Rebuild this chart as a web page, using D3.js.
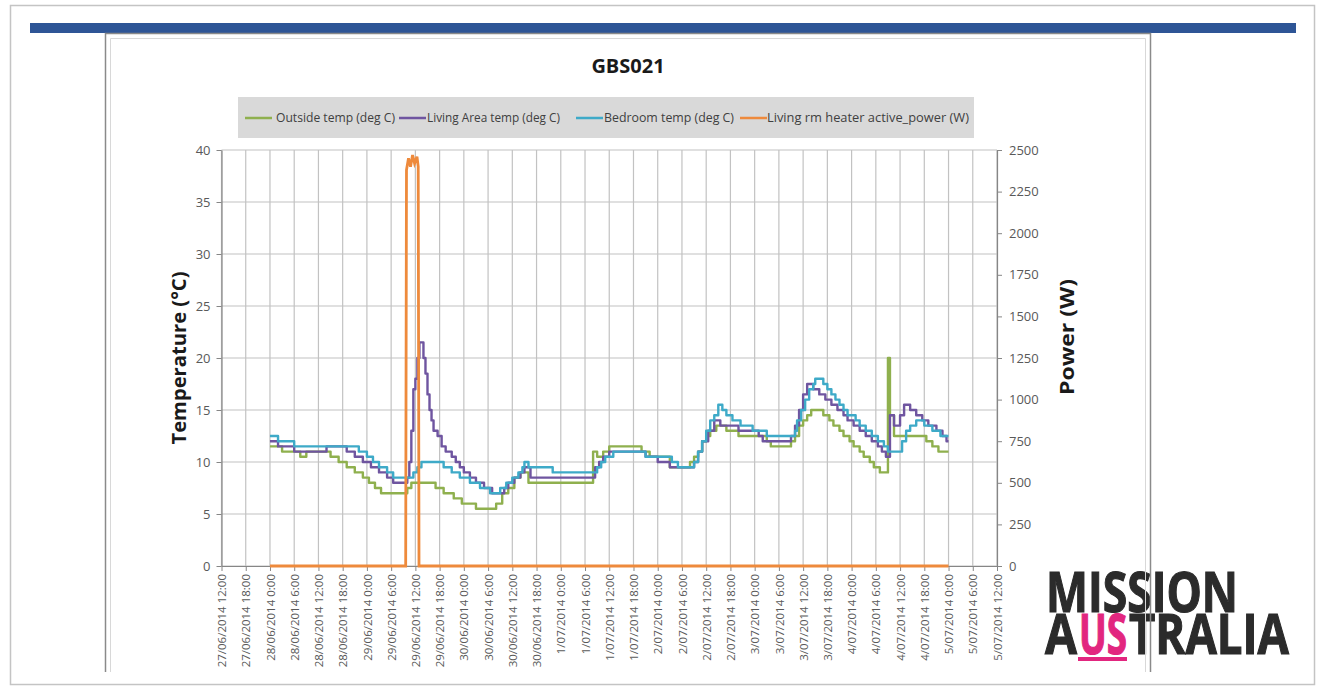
<!DOCTYPE html>
<html>
<head>
<meta charset="utf-8">
<script src="https://cdn.jsdelivr.net/npm/d3@7"></script>
<style>
  body { margin: 0; background: #fff; }
  svg text { font-family: "Open Sans", "Liberation Sans", sans-serif; }
</style>
</head>
<body>
<div id="chart"></div>
<script>
// readings as [hours after 28/06/2014 0:00, value]
const outsideTemp = [[0, 11.5], [3, 11], [7.5, 10.5], [9, 11], [15, 10.5], [17, 10], [19, 9.5], [21, 9], [23, 8.5],
    [24.5, 8], [26, 7.5], [27.5, 7], [34, 7.5], [35, 8], [41, 7.5], [43, 7], [45.5, 6.5], [47.5, 6], [51, 5.5],
    [56, 6], [57.5, 7], [59, 7.5], [60.5, 8.5], [62, 9], [64, 8], [80, 11], [81, 10.5], [82.5, 11], [84, 11.5],
    [92, 11], [94, 10.5], [99, 9.5], [104, 10], [105, 10.5], [106, 11], [107, 12], [108, 12.5], [109, 13],
    [110.5, 13.5], [113, 13], [116, 12.5], [123, 12], [124, 11.5], [129, 12], [130, 12.5], [131, 13.5], [132, 14],
    [133, 14.5], [134, 15], [137, 14.5], [138.5, 14], [139.5, 13.5], [141, 13], [142, 12.5], [143.5, 12],
    [144.5, 11.5], [146, 11], [147, 10.5], [148.5, 10], [149.5, 9.5], [151, 9], [153, 20], [153.5, 14.5],
    [154.5, 12.5], [162.5, 12], [164, 11.5], [165.5, 11], [168, 11]];

const livingTemp = [[0, 12], [2, 11.5], [6, 11], [14, 11.5], [19, 11], [21, 10.5], [23, 10], [25, 9.5], [27, 9],
    [29, 8.5], [30.5, 8], [34, 8.5], [34.5, 10], [35, 13], [35.5, 17], [36, 18], [36.5, 20], [37, 21.5], [38, 20],
    [38.5, 18.5], [39, 16.5], [39.5, 15], [40, 14], [40.5, 13], [41.5, 12.5], [42.5, 11.5], [43.5, 11], [45, 10.5],
    [46, 10], [47, 9.5], [48, 9], [49.5, 8.5], [51, 8], [53, 7.5], [55, 7], [58, 7.5], [59, 8], [60.5, 8.5],
    [62, 9], [63, 9.5], [64.5, 8.5], [80.5, 9.5], [81.5, 10], [82.5, 10.5], [84, 11], [93, 10.5], [96, 10],
    [99, 9.5], [105, 10], [106, 11], [107, 12], [108.5, 13], [110, 14], [111.5, 13.5], [116, 13], [121, 12.5],
    [122, 12], [129, 12.5], [130, 13.5], [131, 15], [132, 16.5], [133, 17.5], [134.5, 17], [136, 16.5],
    [137.5, 16], [139, 15.5], [140.5, 15], [142, 14.5], [143, 14], [144.5, 13.5], [146, 13], [147.5, 12.5],
    [149, 12], [150.5, 11.5], [151.5, 11], [152.5, 10.5], [153.5, 14.5], [154.5, 13.5], [156, 14.5], [157, 15.5],
    [158.5, 15], [160, 14.5], [161.5, 14], [163, 13.5], [165, 13], [166.5, 12.5], [167.5, 12], [168, 12]];

const bedroomTemp = [[0, 12.5], [2, 12], [6, 11.5], [22, 11], [24, 10.5], [25.5, 10], [27, 9.5], [29, 9],
    [30.5, 8.5], [35.5, 9], [36.5, 9.5], [37.5, 10], [43, 9.5], [45, 9], [47, 8.5], [49.5, 8], [52, 7.5],
    [54.5, 7], [57, 7.5], [58.5, 8], [60, 8.5], [61.5, 9], [62.5, 9.5], [63, 10], [64, 9.5], [70, 9], [81, 9.5],
    [82, 10], [83, 10.5], [85, 11], [93, 10.5], [99.5, 10], [101, 9.5], [105, 10], [106, 11], [107, 12], [108, 13],
    [109, 14], [110, 14.5], [111, 15.5], [112, 15], [113, 14.5], [114.5, 14], [116.5, 13.5], [119.5, 13],
    [123, 12.5], [130, 13], [130.5, 14], [131.5, 15], [132.5, 16], [133.5, 17], [134.5, 17.5], [135, 18],
    [137, 17.5], [138, 17], [139, 16.5], [140, 16], [141, 15.5], [142, 15], [143, 14.5], [145, 14], [146, 13.5],
    [147.5, 13], [149, 12.5], [150.5, 12], [152, 11.5], [153, 11], [156.5, 12], [157.5, 13], [158.5, 13.5],
    [160, 14], [162, 13.5], [164, 13], [166, 12.5], [168, 12.5]];

const heaterPower = [[0, 0], [33.6, 0], [33.8, 2380], [34.3, 2450], [34.8, 2400], [35.3, 2470], [35.8, 2420],
    [36.4, 2460], [36.7, 2400], [36.9, 0], [168, 0]];

const xTickLabels = ["27/06/2014 12:00", "27/06/2014 18:00",
    "28/06/2014 0:00", "28/06/2014 6:00", "28/06/2014 12:00", "28/06/2014 18:00",
    "29/06/2014 0:00", "29/06/2014 6:00", "29/06/2014 12:00", "29/06/2014 18:00",
    "30/06/2014 0:00", "30/06/2014 6:00", "30/06/2014 12:00", "30/06/2014 18:00",
    "1/07/2014 0:00", "1/07/2014 6:00", "1/07/2014 12:00", "1/07/2014 18:00",
    "2/07/2014 0:00", "2/07/2014 6:00", "2/07/2014 12:00", "2/07/2014 18:00",
    "3/07/2014 0:00", "3/07/2014 6:00", "3/07/2014 12:00", "3/07/2014 18:00",
    "4/07/2014 0:00", "4/07/2014 6:00", "4/07/2014 12:00", "4/07/2014 18:00",
    "5/07/2014 0:00", "5/07/2014 6:00", "5/07/2014 12:00"];
const tempTicks = [0, 5, 10, 15, 20, 25, 30, 35, 40];
const powerTicks = [0, 250, 500, 750, 1000, 1250, 1500, 1750, 2000, 2250, 2500];

const seriesNames = ["Outside temp (deg C)", "Living Area temp (deg C)", "Bedroom temp (deg C)",
    "Living rm heater active_power (W)"];
const seriesColors = ["#8fb04e", "#6f55a0", "#3eaac8", "#ee8a3c"];

const width = 1323, height = 688;
const plot = { left: 221.5, right: 997, top: 150, bottom: 566 };

const svg = d3.select("#chart")
    .append("svg")
    .attr("width", width)
    .attr("height", height);

// page frame + blue banner
svg.append("rect")
    .attr("x", 10.5).attr("y", 5.5)
    .attr("width", 1304).attr("height", 679)
    .attr("fill", "none")
    .attr("stroke", "#c4c4c4")
    .attr("stroke-width", 1.5);

svg.append("rect")
    .attr("x", 30).attr("y", 23)
    .attr("width", 1266).attr("height", 10)
    .attr("fill", "#2e5596");

// logo, one text element, drawn before the chart frame (frame line crosses it)
const logo = svg.append("text")
    .attr("font-family", "'Liberation Sans Narrow', 'DejaVu Sans Condensed', sans-serif")
    .attr("font-weight", "bold")
    .attr("font-size", 55)
    .attr("fill", "#2b2b2b")
    .attr("stroke", "#2b2b2b")
    .attr("stroke-width", 1.2)
    .attr("lengthAdjust", "spacingAndGlyphs");
logo.append("tspan").attr("x", 1046).attr("y", 612)
    .attr("textLength", 192).attr("lengthAdjust", "spacingAndGlyphs").text("MISSION");
logo.append("tspan").attr("x", 1045).attr("y", 654)
    .attr("textLength", 32).attr("lengthAdjust", "spacingAndGlyphs").text("A");
logo.append("tspan").attr("x", 1079).attr("y", 654)
    .attr("fill", "#e2267f").attr("stroke", "#e2267f")
    .attr("textLength", 48).attr("lengthAdjust", "spacingAndGlyphs").text("US");
logo.append("tspan").attr("x", 1129).attr("y", 654)
    .attr("textLength", 160).attr("lengthAdjust", "spacingAndGlyphs").text("TRALIA");
svg.append("rect")
    .attr("x", 1078).attr("y", 657)
    .attr("width", 49).attr("height", 4)
    .attr("fill", "#e2267f");

// chart frame
svg.append("path")
    .attr("d", "M105.5,672 V33.5 H1150.5 V672")
    .attr("fill", "none")
    .attr("stroke", "#8a8a8a")
    .attr("stroke-width", 1.5);
svg.append("path")
    .attr("d", "M110.5,672 V38.5 H1145.5 V672")
    .attr("fill", "none")
    .attr("stroke", "#d8d8d8")
    .attr("stroke-width", 1);

// scales
const start = new Date(2014, 5, 27, 12);
const origin = new Date(2014, 5, 28, 0);
const toDate = h => new Date(origin.getTime() + h * 3600e3);
const tickDates = xTickLabels.map((_, i) => d3.timeHour.offset(start, i * 6));

const x = d3.scaleTime()
    .domain([start, tickDates[tickDates.length - 1]])
    .range([plot.left, plot.right]);

const yT = d3.scaleLinear()
    .domain([0, 40])
    .range([plot.bottom, plot.top]);

const yP = d3.scaleLinear()
    .domain([0, 2500])
    .range([plot.bottom, plot.top]);

// gridlines
svg.append("g")
    .selectAll("line")
    .data(tempTicks)
    .enter()
    .append("line")
    .attr("x1", plot.left).attr("x2", plot.right)
    .attr("y1", d => yT(d)).attr("y2", d => yT(d))
    .attr("stroke", "#c2c2c2")
    .attr("stroke-width", 1.2);

svg.append("g")
    .selectAll("line")
    .data(tickDates)
    .enter()
    .append("line")
    .attr("x1", d => x(d)).attr("x2", d => x(d))
    .attr("y1", plot.top).attr("y2", plot.bottom)
    .attr("stroke", "#c2c2c2")
    .attr("stroke-width", 1.2);

// Left axis
const axL = svg.append("g")
    .attr("transform", `translate(${plot.left}, 0)`)
    .call(d3.axisLeft(yT).tickValues(tempTicks).tickSize(5).tickSizeOuter(0).tickPadding(6));
axL.selectAll("text").attr("font-size", "13px").attr("fill", "#595959");

// Right axis
const axR = svg.append("g")
    .attr("transform", `translate(${plot.right}, 0)`)
    .call(d3.axisRight(yP).tickValues(powerTicks).tickFormat(d3.format("d"))
        .tickSize(5).tickSizeOuter(0).tickPadding(7));
axR.selectAll("text").attr("font-size", "13px").attr("fill", "#595959");

// Bottom axis
const axB = svg.append("g")
    .attr("transform", `translate(0, ${plot.bottom})`)
    .call(d3.axisBottom(x).tickValues(tickDates).tickFormat((d, i) => xTickLabels[i])
        .tickSize(5).tickSizeOuter(0));
axB.selectAll("text")
    .attr("transform", "rotate(-90)")
    .attr("x", -8).attr("y", 0).attr("dy", "0.36em")
    .attr("text-anchor", "end")
    .attr("font-size", "11.5px")
    .attr("fill", "#595959");

svg.selectAll(".domain").attr("stroke", "#868686").attr("stroke-width", 1.2);
svg.selectAll(".tick line").attr("stroke", "#868686");

// series
const tempLine = d3.line()
    .x(d => x(toDate(d[0])))
    .y(d => yT(d[1]))
    .curve(d3.curveStepAfter);

const powerLine = d3.line()
    .x(d => x(toDate(d[0])))
    .y(d => yP(d[1]));

[outsideTemp, livingTemp, bedroomTemp].forEach((s, i) => {
    svg.append("path")
        .datum(s)
        .attr("fill", "none")
        .attr("stroke", seriesColors[i])
        .attr("stroke-width", 2.4)
        .attr("stroke-linejoin", "round")
        .attr("d", tempLine);
});

svg.append("path")
    .datum(heaterPower)
    .attr("fill", "none")
    .attr("stroke", seriesColors[3])
    .attr("stroke-width", 2.8)
    .attr("d", powerLine);

// Title
svg.append("text")
    .attr("x", 628).attr("y", 73)
    .attr("text-anchor", "middle")
    .attr("font-size", "20px")
    .attr("font-weight", "bold")
    .attr("fill", "#1a1a1a")
    .text("GBS021");

// Legend
svg.append("rect")
    .attr("x", 238).attr("y", 97)
    .attr("width", 736).attr("height", 41)
    .attr("fill", "#d9d9d9");

const legendLineX = [245, 399, 576, 740];
const legendTextX = [276, 427, 604, 767];
const legendTextW = [119, 133, 130, 202];
const legend = svg.append("g");
seriesNames.forEach((name, i) => {
    legend.append("line")
        .attr("x1", legendLineX[i]).attr("x2", legendLineX[i] + 27)
        .attr("y1", 118).attr("y2", 118)
        .attr("stroke", seriesColors[i])
        .attr("stroke-width", 2.5);
    legend.append("text")
        .attr("x", legendTextX[i]).attr("y", 122)
        .attr("font-size", "12px")
        .attr("textLength", legendTextW[i])
        .attr("lengthAdjust", "spacingAndGlyphs")
        .attr("fill", "#404040")
        .text(name);
});

// Y Axis Titles
svg.append("text")
    .attr("transform", "rotate(-90)")
    .attr("x", -358).attr("y", 186)
    .attr("text-anchor", "middle")
    .attr("font-size", "19px")
    .attr("font-weight", "bold")
    .attr("fill", "#1a1a1a")
    .attr("textLength", 173)
    .attr("lengthAdjust", "spacingAndGlyphs")
    .text("Temperature (°C)");

svg.append("text")
    .attr("transform", "rotate(-90)")
    .attr("x", -337).attr("y", 1074)
    .attr("text-anchor", "middle")
    .attr("font-size", "20px")
    .attr("font-weight", "bold")
    .attr("fill", "#1a1a1a")
    .attr("textLength", 116)
    .attr("lengthAdjust", "spacingAndGlyphs")
    .text("Power (W)");
</script>
</body>
</html>
